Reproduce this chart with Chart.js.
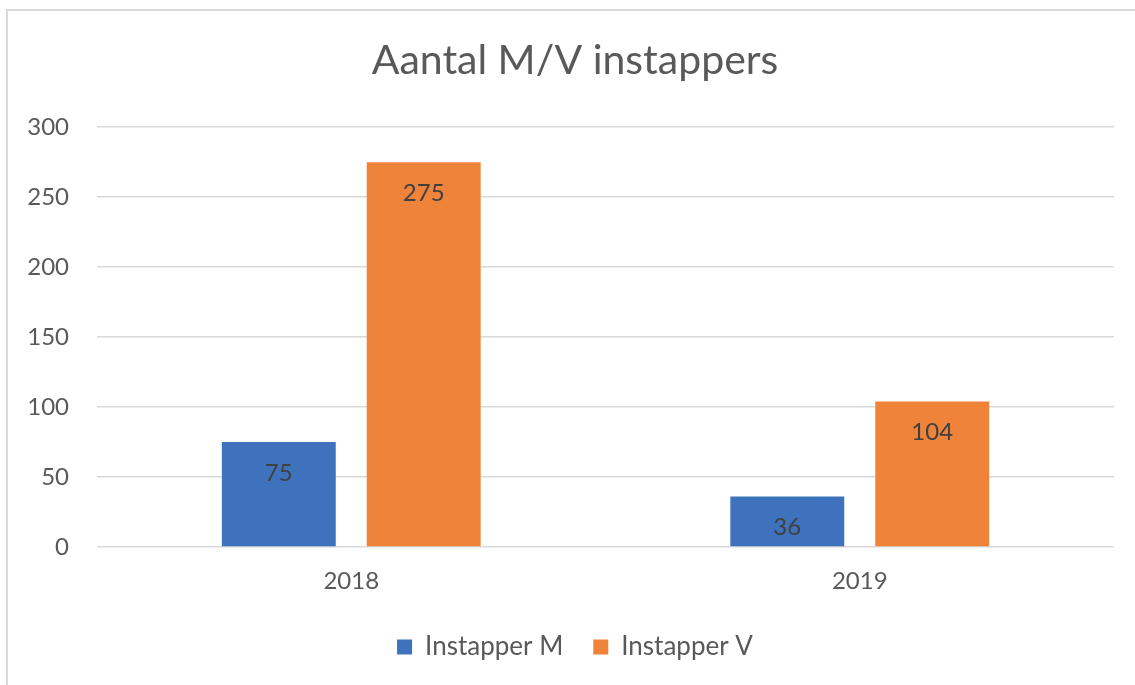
<!DOCTYPE html>
<html>
<head>
<meta charset="utf-8">
<script src="https://cdn.jsdelivr.net/npm/chart.js@4"></script>
<style>
  html, body { margin: 0; padding: 0; background: #fff; overflow: hidden; }
  #frame { position: absolute; left: 6px; top: 9px; width: 1200px; height: 760px; border: 2px solid #d9d9d9; }
  #wrap { position: absolute; left: 0; top: 0; width: 1135px; height: 670px; }
</style>
</head>
<body>
<div id="frame"></div>
<div id="wrap"><canvas id="chart"></canvas></div>
<script>
const years = ["2018", "2019"];
const instapperM = [75, 36];
const instapperV = [275, 104];
const yTicks = [0, 50, 100, 150, 200, 250, 300];

const textColor = "#595959";
const fontFamily = "Lato, 'Noto Sans', sans-serif";

// values written inside the bars, just under the top edge
const barLabels = {
  id: "barLabels",
  afterDatasetsDraw(chart) {
    const ctx = chart.ctx;
    ctx.save();
    ctx.font = "24px " + fontFamily;
    ctx.fillStyle = "#404040";
    ctx.textAlign = "center";
    ctx.textBaseline = "middle";
    chart.data.datasets.forEach((ds, i) => {
      chart.getDatasetMeta(i).data.forEach((bar, j) => {
        ctx.fillText(String(ds.data[j]), bar.x, bar.y + 31);
      });
    });
    ctx.restore();
  }
};

new Chart(document.getElementById("chart"), {
  type: "bar",
  data: {
    labels: years,
    datasets: [
      {
        label: "Instapper M",
        data: instapperM,
        backgroundColor: "#3F72BD",
        categoryPercentage: 0.57,
        barPercentage: 0.786,
      },
      {
        label: "Instapper V",
        data: instapperV,
        backgroundColor: "#F0833A",
        categoryPercentage: 0.57,
        barPercentage: 0.786,
      },
    ],
  },
  options: {
    responsive: true,
    maintainAspectRatio: false,
    animation: false,
    layout: { padding: { left: 36, right: 21, top: 0, bottom: 0 } },
    plugins: {
      title: {
        display: true,
        text: "Aantal M/V instappers",
        color: textColor,
        font: { family: fontFamily, size: 41, weight: "normal" },
        padding: { top: 36, bottom: 42 },
      },
      legend: {
        position: "bottom",
        labels: {
          color: textColor,
          font: { family: fontFamily, size: 26 },
          boxWidth: 15,
          boxHeight: 15,
          padding: 30,
        },
      },
      tooltip: { enabled: false },
    },
    scales: {
      x: {
        grid: { display: false, drawTicks: false },
        border: { display: false },
        ticks: { color: textColor, font: { family: fontFamily, size: 24 }, padding: 20 },
        afterFit(scale) { scale.height = 57; },
      },
      y: {
        min: 0,
        max: 300,
        grid: { color: "#d9d9d9", lineWidth: 1.5, drawTicks: false },
        border: { display: false },
        ticks: {
          color: textColor,
          font: { family: fontFamily, size: 24 },
          padding: 28,
          stepSize: 50,
        },
        afterBuildTicks(scale) { scale.ticks = yTicks.map(v => ({ value: v })); },
        afterFit(scale) {
          scale.width = 61;
          // labels reach into the left padding, so don't clip them
          scale._computeLabelArea = () => null;
        },
      },
    },
  },
  plugins: [barLabels],
});
</script>
</body>
</html>
